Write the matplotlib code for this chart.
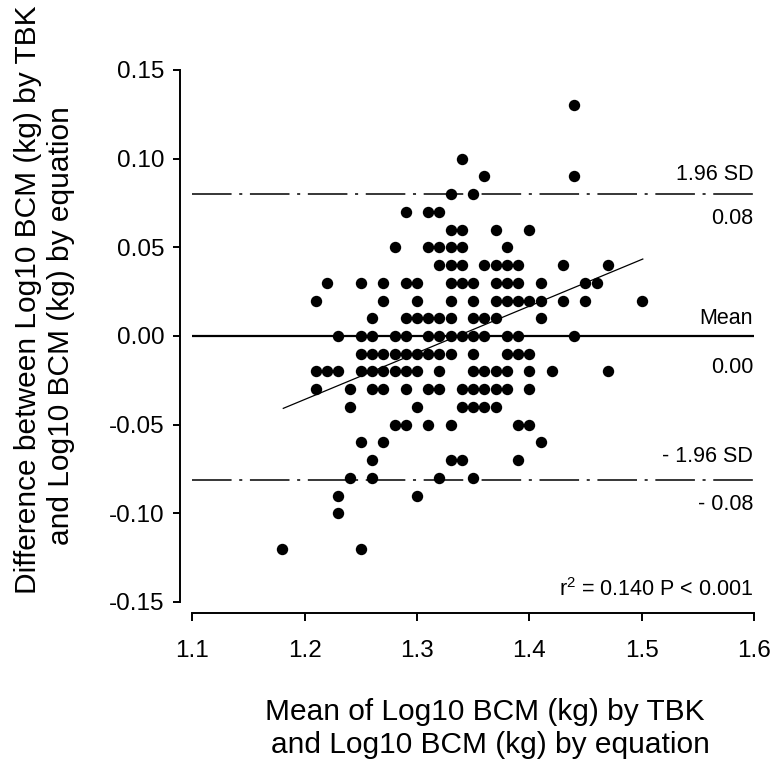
import matplotlib
matplotlib.use("Agg")
import matplotlib.pyplot as plt
import matplotlib.transforms as mtransforms

plt.rcParams['font.family'] = ['Liberation Sans', 'DejaVu Sans']
plt.rcParams['mathtext.fontset'] = 'custom'
plt.rcParams['mathtext.rm'] = 'Liberation Sans'
plt.rcParams['lines.scale_dashes'] = False

# ---- data (mean of the two methods, difference) ----
mean_vals = [
    1.44,                                                   # 0.13
    1.34,                                                   # 0.10
    1.36, 1.44,                                             # 0.09
    1.33, 1.35,                                             # 0.08
    1.29, 1.31, 1.32,                                       # 0.07
    1.33, 1.34, 1.37, 1.40,                                 # 0.06
    1.28, 1.31, 1.32, 1.33, 1.34, 1.38,                     # 0.05
    1.32, 1.33, 1.34, 1.36, 1.37, 1.38, 1.39, 1.43, 1.47,   # 0.04
    1.22, 1.25, 1.27, 1.29, 1.30, 1.33, 1.34, 1.35, 1.37, 1.38, 1.39, 1.41, 1.45, 1.46,  # 0.03
    1.21, 1.27, 1.30, 1.33, 1.35, 1.37, 1.38, 1.39, 1.40, 1.41, 1.43, 1.45, 1.50,        # 0.02
    1.26, 1.29, 1.30, 1.31, 1.32, 1.33, 1.35, 1.36, 1.37, 1.41,                          # 0.01
    1.23, 1.25, 1.26, 1.28, 1.29, 1.31, 1.32, 1.33, 1.34, 1.35, 1.36, 1.38, 1.39, 1.44,  # 0.00
    1.25, 1.26, 1.27, 1.28, 1.29, 1.30, 1.31, 1.32, 1.33, 1.35, 1.38, 1.39, 1.40,        # -0.01
    1.21, 1.22, 1.23, 1.25, 1.26, 1.27, 1.28, 1.29, 1.30, 1.32, 1.35, 1.36, 1.37, 1.38, 1.40, 1.42, 1.47,  # -0.02
    1.21, 1.24, 1.26, 1.27, 1.29, 1.31, 1.32, 1.34, 1.35, 1.36, 1.37, 1.38, 1.40,        # -0.03
    1.24, 1.30, 1.34, 1.35, 1.36, 1.37,                     # -0.04
    1.28, 1.29, 1.31, 1.33, 1.39, 1.40,                     # -0.05
    1.25, 1.27, 1.41,                                       # -0.06
    1.26, 1.33, 1.34, 1.39,                                 # -0.07
    1.24, 1.26, 1.32, 1.35,                                 # -0.08
    1.23, 1.30,                                             # -0.09
    1.23,                                                   # -0.10
    1.18, 1.25,                                             # -0.12
]
diff_vals = (
    [0.13] * 1 + [0.10] * 1 + [0.09] * 2 + [0.08] * 2 + [0.07] * 3 +
    [0.06] * 4 + [0.05] * 6 + [0.04] * 9 + [0.03] * 14 + [0.02] * 13 +
    [0.01] * 10 + [0.00] * 14 + [-0.01] * 13 + [-0.02] * 17 + [-0.03] * 13 +
    [-0.04] * 6 + [-0.05] * 6 + [-0.06] * 3 + [-0.07] * 4 + [-0.08] * 4 +
    [-0.09] * 2 + [-0.10] * 1 + [-0.12] * 2
)

mean_diff = 0.00
upper_loa = 0.080
lower_loa = -0.081
reg_x = [1.181, 1.501]
reg_y = [-0.0408, 0.0434]

x_ticks = [1.1, 1.2, 1.3, 1.4, 1.5, 1.6]
y_ticks = [-0.15, -0.10, -0.05, 0.00, 0.05, 0.10, 0.15]

# ---- figure ----
W, H = 771, 759
fig = plt.figure(figsize=(W / 100, H / 100), dpi=100)
ax = fig.add_axes([192.3 / W, 1 - 602 / H, 561.7 / W, 532 / H])

ax.plot(mean_vals, diff_vals, 'o', color='black', markersize=8.2,
        markeredgewidth=0, zorder=3, clip_on=False)

ax.axhline(mean_diff, color='black', lw=1.6, zorder=2)
for v in (upper_loa, lower_loa):
    ax.axhline(v, color='black', lw=1.1, dashes=(28.5, 5.5, 2.2, 5.5), zorder=2)
ax.plot(reg_x, reg_y, color='black', lw=0.9, zorder=2)

ax.set_xlim(1.1, 1.6)
ax.set_ylim(-0.15, 0.15)
ax.set_xticks(x_ticks)
ax.set_yticks(y_ticks)
ax.set_xticklabels([f"{t:.1f}" for t in x_ticks])
ax.set_yticklabels([f"{t:.2f}" for t in y_ticks])

for s in ('top', 'right'):
    ax.spines[s].set_visible(False)
ax.spines['left'].set_position(('outward', 8.9))
ax.spines['bottom'].set_position(('outward', 8.1))
for s in ('left', 'bottom'):
    ax.spines[s].set_linewidth(1.4)

ax.tick_params(axis='y', direction='out', length=5, width=1.4, pad=6, labelsize=17.5)
ax.tick_params(axis='x', direction='out', length=6, width=1.4, pad=13, labelsize=17.5)

# annotations on right
tr = mtransforms.blended_transform_factory(ax.transAxes, ax.transData)
ann_fs = 15.5
xr = 0.9985
ax.text(xr, 0.0908, '1.96 SD', transform=tr, ha='right', va='center', fontsize=ann_fs)
ax.text(xr, 0.0660, '0.08', transform=tr, ha='right', va='center', fontsize=ann_fs)
ax.text(xr, 0.0096, 'Mean', transform=tr, ha='right', va='center', fontsize=ann_fs)
ax.text(xr, -0.0175, '0.00', transform=tr, ha='right', va='center', fontsize=ann_fs)
ax.text(xr, -0.0677, '- 1.96 SD', transform=tr, ha='right', va='center', fontsize=ann_fs)
ax.text(xr, -0.0953, '- 0.08', transform=tr, ha='right', va='center', fontsize=ann_fs)
ax.text(xr, -0.1430, r'$\mathregular{r^2}$ = 0.140 P < 0.001', transform=tr,
        ha='right', va='center', fontsize=ann_fs)

# axis titles
lab_fs = 21.5
fig.text(28 / W, 1 - 300 / H, 'Difference between Log10 BCM (kg) by TBK',
         rotation=90, ha='center', va='center', fontsize=lab_fs)
fig.text(61 / W, 1 - 326 / H, 'and Log10 BCM (kg) by equation',
         rotation=90, ha='center', va='center', fontsize=lab_fs)
fig.text(485 / W, 1 - 712 / H, 'Mean of Log10 BCM (kg) by TBK',
         ha='center', va='center', fontsize=lab_fs)
fig.text(490 / W, 1 - 745 / H, 'and Log10 BCM (kg) by equation',
         ha='center', va='center', fontsize=lab_fs)

fig.savefig('out.png', dpi=100, facecolor='white')
